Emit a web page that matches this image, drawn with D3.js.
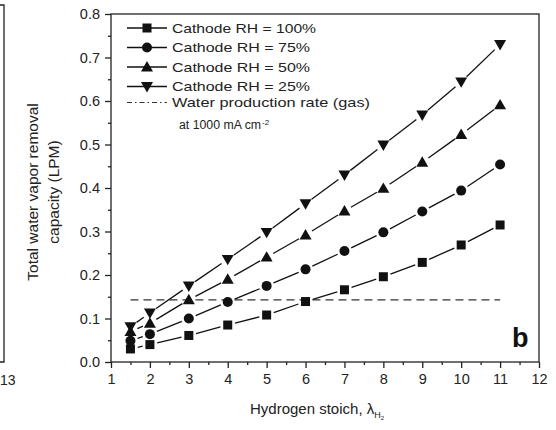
<!DOCTYPE html>
<html><head><meta charset="utf-8">
<script src="https://cdn.jsdelivr.net/npm/d3@7"></script>
<style>body{margin:0;background:#fff}svg{display:block;font-family:"Liberation Sans",Arial,sans-serif}</style>
</head><body>
<svg id="c" width="556" height="430"></svg>
<script>
const stoich = [1.5, 2, 3, 4, 5, 6, 7, 8, 9, 10, 11];
const rh100 = [0.030, 0.040, 0.061, 0.085, 0.108, 0.139, 0.166, 0.196, 0.229, 0.269, 0.315];
const rh75  = [0.049, 0.064, 0.100, 0.138, 0.175, 0.213, 0.255, 0.298, 0.346, 0.394, 0.454];
const rh50  = [0.070, 0.089, 0.143, 0.190, 0.241, 0.292, 0.347, 0.399, 0.459, 0.523, 0.591];
const rh25  = [0.081, 0.113, 0.175, 0.236, 0.298, 0.364, 0.430, 0.499, 0.568, 0.644, 0.730];
const seriesNames = ["Cathode RH = 100%", "Cathode RH = 75%", "Cathode RH = 50%", "Cathode RH = 25%"];
const waterRate = 0.143;
const waterRange = [1.5, 11];
const xTicks = [1,2,3,4,5,6,7,8,9,10,11,12];
const yTicks = [0.0,0.1,0.2,0.3,0.4,0.5,0.6,0.7,0.8];

const svg = d3.select("#c");
const x = d3.scaleLinear().domain([1,12]).range([111,539]);
const y = d3.scaleLinear().domain([0,0.8]).range([362,14]);
const col = "#111";
const tcol = "#222";

// fragment of neighbouring panel
svg.append("path").attr("d","M0,5H4V362H0").attr("fill","none").attr("stroke","#222").attr("stroke-width",1.3);
svg.append("text").attr("x",0).attr("y",385).attr("font-size",14).attr("fill",tcol).text("13");

// frame
svg.append("rect").attr("x",x(1)).attr("y",y(0.8)).attr("width",x(12)-x(1)).attr("height",y(0)-y(0.8))
  .attr("fill","none").attr("stroke","#222").attr("stroke-width",1.3);

// axes
const xa = svg.append("g").attr("transform",`translate(0,${y(0)})`)
  .call(d3.axisBottom(x).tickValues(xTicks).tickFormat(d3.format("d")).tickSize(6).tickPadding(6));
const xm = svg.append("g").attr("transform",`translate(0,${y(0)})`)
  .call(d3.axisBottom(x).tickValues(d3.range(1.5,12,1)).tickFormat("").tickSize(3));
const ya = svg.append("g").attr("transform",`translate(${x(1)},0)`)
  .call(d3.axisLeft(y).tickValues(yTicks).tickFormat(d3.format(".1f")).tickSize(6).tickPadding(5));
const ym = svg.append("g").attr("transform",`translate(${x(1)},0)`)
  .call(d3.axisLeft(y).tickValues(d3.range(0.05,0.8,0.1)).tickFormat("").tickSize(3));
[xa,xm,ya,ym].forEach(g=>{
  g.select(".domain").remove();
  g.selectAll("line").attr("stroke","#222").attr("stroke-width",1.3);
  g.selectAll("text").attr("font-size",14.5).attr("fill",tcol).attr("font-family","Liberation Sans, Arial, sans-serif");
});

// water production line
svg.append("line").attr("x1",x(waterRange[0])).attr("x2",x(waterRange[1]))
  .attr("y1",y(waterRate)).attr("y2",y(waterRate))
  .attr("stroke","#333").attr("stroke-width",1.2).attr("stroke-dasharray","8,5");

// marker symbols
const syms = [
  (g)=>g.append("rect").attr("x",-4.5).attr("y",-4.5).attr("width",9).attr("height",9),
  (g)=>g.append("circle").attr("r",5),
  (g)=>g.append("path").attr("d","M0,-6L6,4.4L-6,4.4Z"),
  (g)=>g.append("path").attr("d","M0,6L6,-4.4L-6,-4.4Z")
];
const data = [rh100, rh75, rh50, rh25];
const gap = 7.5;
data.forEach((vals,si)=>{
  const pts = stoich.map((s,i)=>[x(s),y(vals[i])]);
  const g = svg.append("g");
  for(let i=0;i<pts.length-1;i++){
    const [x1,y1]=pts[i],[x2,y2]=pts[i+1];
    const dx=x2-x1, dy=y2-y1, L=Math.hypot(dx,dy);
    if(L<=2*gap) continue;
    const ux=dx/L, uy=dy/L;
    g.append("line").attr("x1",x1+ux*gap).attr("y1",y1+uy*gap).attr("x2",x2-ux*gap).attr("y2",y2-uy*gap)
      .attr("stroke",col).attr("stroke-width",1.3);
  }
  pts.forEach(p=>{
    const m = g.append("g").attr("transform",`translate(${p[0]},${p[1]})`).attr("fill",col);
    syms[si](m);
  });
});

// legend
const lg = svg.append("g");
const rowsY = [28, 47.5, 67, 86.5];
const rowsW = [144, 138, 138, 138];
seriesNames.forEach((n,i)=>{
  const yy = rowsY[i];
  lg.append("line").attr("x1",127).attr("x2",167).attr("y1",yy).attr("y2",yy).attr("stroke",col).attr("stroke-width",1.4);
  const m = lg.append("g").attr("transform",`translate(147,${yy})`).attr("fill",col);
  syms[i](m);
  lg.append("text").attr("x",172).attr("y",yy+4.7).attr("font-size",13.5).attr("fill",tcol)
    .attr("textLength",rowsW[i]).attr("lengthAdjust","spacingAndGlyphs").text(n);
});
const wy = 102.5;
lg.append("line").attr("x1",127).attr("x2",167).attr("y1",wy).attr("y2",wy).attr("stroke","#333").attr("stroke-width",1.2).attr("stroke-dasharray","5,3,1.5,3");
lg.append("text").attr("x",172).attr("y",wy+4.7).attr("font-size",13.5).attr("fill",tcol)
  .attr("textLength",198).attr("lengthAdjust","spacingAndGlyphs").text("Water production rate (gas)");
const t2 = lg.append("text").attr("x",179).attr("y",129).attr("font-size",12.3).attr("fill",tcol);
t2.append("tspan").text("at 1000 mA cm");
t2.append("tspan").attr("dy",-4).attr("dx",1).attr("font-size",8).text("-2");

// panel letter
svg.append("text").attr("x",512).attr("y",347).attr("font-size",27).attr("font-weight","bold").attr("fill","#111").text("b");

// axis titles
const yl = svg.append("text").attr("transform","translate(38,192) rotate(-90)").attr("text-anchor","middle")
  .attr("font-size",15.5).attr("fill",tcol);
yl.append("tspan").attr("x",0).attr("dy",0).text("Total water vapor removal");
yl.append("tspan").attr("x",0).attr("dy",21).text("capacity (LPM)");

const xl = svg.append("text").attr("x",250).attr("y",414).attr("font-size",15).attr("fill",tcol);
xl.append("tspan").text("Hydrogen stoich, λ");
xl.append("tspan").attr("dy",4).attr("font-size",9).text("H");
xl.append("tspan").attr("dy",2).attr("font-size",6).text("2");
</script>
</body></html>
